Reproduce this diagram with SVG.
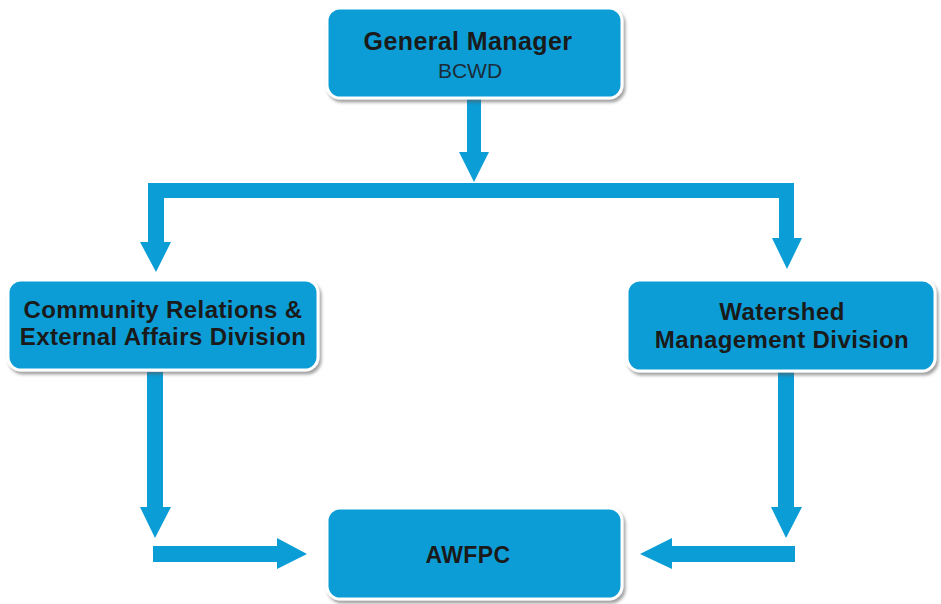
<svg xmlns="http://www.w3.org/2000/svg" width="941" height="604" viewBox="0 0 941 604">
<defs>
<filter id="sh" x="-10%" y="-10%" width="120%" height="130%">
<feDropShadow dx="2" dy="3" stdDeviation="1.8" flood-color="#555" flood-opacity="0.55"/>
</filter>
</defs>
<style>
.box{fill:#0b9dd6;stroke:#ffffff;stroke-width:3;filter:url(#sh)}
.con{fill:#0b9dd6}
.t{font-family:"Liberation Sans",Arial,sans-serif;font-weight:bold;fill:#1a1a1a;text-anchor:middle;letter-spacing:0.4px}
.s{font-family:"Liberation Sans",Arial,sans-serif;font-weight:normal;fill:#1c2b38;text-anchor:middle}
</style>
<rect width="941" height="604" fill="#ffffff"/>
<g id="connectors">
<!-- GM down -->
<polygon class="con" points="467,98 481,98 481,152 489,152 474,182 459,152 467,152"/>
<!-- horizontal bar with drops -->
<polygon class="con" points="148,183 794,183 794,238 802,238 787,269 772,238 779,238 779,198 164,198 164,242 171,242 156,272 140,242 148,242"/>
<!-- left lower vertical -->
<polygon class="con" points="147,372 163,372 163,507 171,507 155,538 140,507 147,507"/>
<!-- left horizontal to AWFPC -->
<polygon class="con" points="153,546 277,546 277,538 307,554 277,569 277,562 153,562"/>
<!-- right lower vertical -->
<polygon class="con" points="778,372 794,372 794,507 802,507 786,538 771,507 778,507"/>
<!-- right horizontal to AWFPC -->
<polygon class="con" points="795,546 672,546 672,538 640,554 672,569 672,562 795,562"/>
</g>
<g id="gm">
<rect class="box" x="327" y="8" width="295" height="90" rx="13"/>
<text class="t" x="468" y="50" font-size="25">General Manager</text>
<text class="s" x="470" y="78" font-size="21">BCWD</text>
</g>
<g id="community">
<rect class="box" x="8" y="280" width="310" height="90" rx="13"/>
<text class="t" x="163" y="318" font-size="24">Community Relations &amp;</text>
<text class="t" x="163" y="345" font-size="24">External Affairs Division</text>
</g>
<g id="watershed">
<rect class="box" x="627" y="280" width="308" height="91" rx="13"/>
<text class="t" x="782" y="320" font-size="24">Watershed</text>
<text class="t" x="782" y="348" font-size="24">Management Division</text>
</g>
<g id="awfpc">
<rect class="box" x="327" y="508" width="295" height="91" rx="13"/>
<text class="t" x="468" y="563" font-size="23">AWFPC</text>
</g>
</svg>
